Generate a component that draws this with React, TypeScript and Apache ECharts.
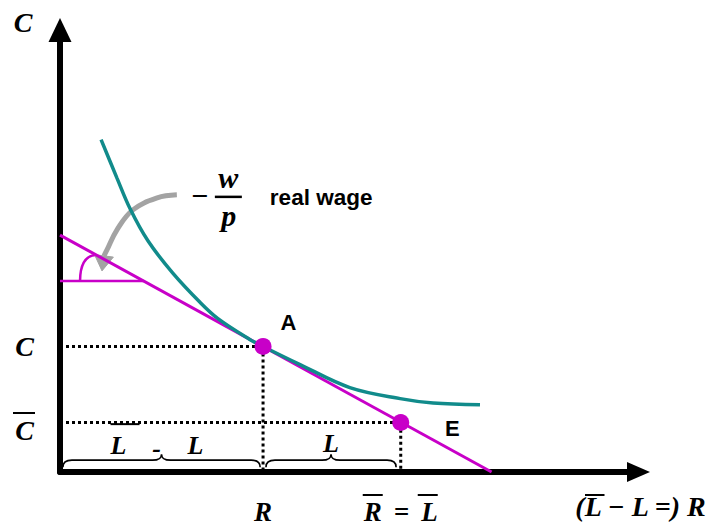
import React, { useEffect, useRef } from 'react';
import * as echarts from 'echarts';

// ---- values (x: 0..100, y: 0..100 data units) ----
const budgetLine: number[][] = [[0, 53.6], [74.6, 0]];
const indifferenceCurve: number[][] = [
  [7.1, 75.2], [9.85, 66.5], [12.1, 59.6], [15.2, 52.3], [19.5, 45.0], [24.2, 38.4],
  [27.3, 34.7], [32.8, 30.0], [35.1, 28.4], [41.5, 24.3], [50.1, 19.1], [58.8, 16.6],
  [64.5, 15.6], [72.6, 15.2],
];
const pointA: number[] = [35.1, 28.4];
const pointE: number[] = [58.9, 11.2];
const pointLabels: string[] = ['A', 'E'];
const angleLine: number[][] = [[0, 43.2], [14.47, 43.2]];
const angleArc: number[][] = [[3.46, 43.2], [3.5, 48.9], [6.2, 49.1]];
const wageArrow: number[][] = [[20.2, 62.7], [16.8, 62.0], [12.6, 59.3], [9.85, 54.8], [8.1, 50.2], [7.6, 48.9]];
const wageArrowHead: number[][] = [[7.6, 48.9], [7.26, 45.5]];
const braces: number[][] = [[0.5, 34.6, 1.1], [35.6, 58.1, 1.1]];
const braceLabels: string[] = ['L - L', 'L'];
const yTickValues: number[] = [pointE[1], pointA[1]];
const yTickLabels: string[] = ['C', 'C'];
const xTickValues: number[] = [pointA[0], pointE[0]];
const xTickLabels: string[] = ['R', 'R \u2009= \u2009L'];
const xAxisName = '(L \u2212 L =) R';
const yAxisName = 'C';
const wageLabel = 'real wage';

const serif = "'Liberation Serif', 'Times New Roman', serif";
const sans = "'Liberation Sans', Arial, sans-serif";
const magenta = '#c800c8';
const teal = '#118b8b';
const grey = '#a3a3a3';

const pick = (vals: number[], labels: string[], v: number) => {
  const i = vals.findIndex((x) => Math.abs(x - v) < 1e-6);
  return i >= 0 ? labels[i] : '';
};

export default function App() {
  const ref = useRef<HTMLDivElement>(null);
  useEffect(() => {
    const chart = echarts.init(ref.current!, null, { renderer: 'svg' });
    const serifFont = { fontWeight: 'bold', fontStyle: 'italic', fontFamily: serif, color: '#000' };

    const line = (data: number[][], color: string, width: number, extra: any = {}) => ({
      type: 'line', data, symbol: 'none', silent: true, clip: false,
      lineStyle: { color, width, ...(extra.lineStyle || {}) },
      ...Object.fromEntries(Object.entries(extra).filter(([k]) => k !== 'lineStyle')),
    });

    const option: any = {
      animation: false,
      backgroundColor: '#fff',
      grid: { left: 60, right: 84.5, top: 30, bottom: 57 },
      xAxis: {
        type: 'value', min: 0, max: 100,
        axisLine: { show: true, symbol: ['none', 'triangle'], symbolSize: [20, 23], lineStyle: { color: '#000', width: 6 } },
        axisTick: { show: false },
        splitLine: { show: false },
        axisLabel: {
          customValues: xTickValues,
          formatter: (v: number) => pick(xTickValues, xTickLabels, v),
          margin: 26, fontSize: 27, ...serifFont,
        },
      },
      yAxis: {
        type: 'value', min: 0, max: 100,
        axisLine: { show: true, symbol: ['none', 'triangle'], symbolSize: [23, 24], lineStyle: { color: '#000', width: 6 } },
        axisTick: { show: false },
        splitLine: { show: false },
        axisLabel: {
          customValues: yTickValues,
          formatter: (v: number) => {
            const t = pick(yTickValues, yTickLabels, v);
            return Math.abs(v - pointE[1]) < 1e-6 ? `{ov|${t}}` : `{n|${t}}`;
          },
          margin: 26,
          rich: {
            ov: { fontSize: 28, ...serifFont, padding: [16, 0, 0, 0] },
            n: { fontSize: 28, ...serifFont },
          },
        },
      },
      series: [
        line([[0, pointA[1]], pointA, [pointA[0], 0]], '#000', 3, { lineStyle: { type: [3, 3] } }),
        line([[0, pointE[1]], pointE, [pointE[0], 0]], '#000', 3, { lineStyle: { type: [3, 3] } }),
        line(budgetLine, magenta, 3),
        line(angleLine, magenta, 2.5),
        line(wageArrow, grey, 5, { smooth: 0.4 }),
        {
          type: 'custom', silent: true, data: [[0, 0]], z: 3,
          renderItem: (_p: any, api: any) => {
            const s = api.coord(angleArc[0]);
            const c = api.coord(angleArc[1]);
            const e = api.coord(angleArc[2]);
            return {
              type: 'path',
              shape: { pathData: `M${s[0]} ${s[1]} Q${c[0]} ${c[1]} ${e[0]} ${e[1]}` },
              style: { fill: 'none', stroke: magenta, lineWidth: 2.5 },
            };
          },
        },
        line(indifferenceCurve, teal, 3.5, { smooth: 0.35, z: 4 }),
        {
          type: 'scatter', silent: true, symbolSize: 17,
          itemStyle: { color: magenta, opacity: 1 },
          data: [
            { value: pointA, label: { offset: [25.5, -24] } },
            { value: pointE, label: { offset: [51.5, 6.5] } },
          ],
          label: {
            show: true, position: 'inside',
            formatter: (p: any) => pointLabels[p.dataIndex],
            fontSize: 22, fontWeight: 'bold', fontFamily: sans, color: '#000',
          },
          z: 5,
        },
        {
          type: 'custom', silent: true, data: braces,
          renderItem: (params: any, api: any) => {
            const a = api.coord([api.value(0), api.value(2)]);
            const b = api.coord([api.value(1), api.value(2)]);
            const yb = a[1], ym = yb - 7, yt = yb - 13, r = 9;
            const xm = (a[0] + b[0]) / 2;
            const d = `M${a[0]} ${yb} Q${a[0]} ${ym} ${a[0] + r} ${ym} L${xm - r} ${ym} Q${xm} ${ym} ${xm} ${yt} Q${xm} ${ym} ${xm + r} ${ym} L${b[0] - r} ${ym} Q${b[0]} ${ym} ${b[0]} ${yb}`;
            const txt = (text: string, x: number, y: number) => ({
              type: 'text', x, y,
              style: { text, fontSize: 26, fontWeight: 'bold', fontStyle: 'italic', fontFamily: serif, fill: '#000', align: 'center', verticalAlign: 'middle' },
            });
            const children: any[] = [
              { type: 'path', shape: { pathData: d }, style: { fill: 'none', stroke: '#000', lineWidth: 1.6 } },
            ];
            const parts = braceLabels[params.dataIndex].split(' ');
            if (parts.length === 3) {
              children.push(txt(parts[0], xm - 43, yb - 22));
              children.push(txt(parts[1], xm - 5, yb - 19));
              children.push(txt(parts[2], xm + 34, yb - 22));
              children.push({ type: 'line', shape: { x1: xm - 51, y1: yb - 43, x2: xm - 22, y2: yb - 43 }, style: { stroke: '#000', lineWidth: 2 } });
            } else {
              children.push(txt(parts[0], xm, yb - 24));
            }
            return { type: 'group', children };
          },
        },
      ],
    };
    chart.setOption(option);

    const g = { gridIndex: 0 };
    const px = (p: number[]) => chart.convertToPixel(g, p) as number[];
    const [x0, y0] = px([0, 0]);
    const [xEnd] = px([100, 0]);
    const [, yTop] = px([0, 100]);
    const [ex, ey] = px(pointE);
    const [wx, wy] = px(wageArrow[0]);
    const hb = px(wageArrowHead[0]);
    const ht = px(wageArrowHead[1]);
    const hdx = ht[0] - hb[0], hdy = ht[1] - hb[1];
    const hlen = Math.hypot(hdx, hdy) || 1;
    const hw = 9.5;
    const hnx = (-hdy / hlen) * hw, hny = (hdx / hlen) * hw;

    const T = (text: string, x: number, y: number, size: number, extra: any = {}) => ({
      type: 'text', x, y, silent: true,
      style: { text, fontSize: size, fontWeight: 'bold', fontStyle: 'italic', fontFamily: serif, fill: '#000', align: 'center', verticalAlign: 'middle', ...extra },
    });
    const OL = (xa: number, xb: number, y: number, w = 2) => ({
      type: 'line', silent: true, shape: { x1: xa, y1: y, x2: xb, y2: y }, style: { stroke: '#000', lineWidth: w },
    });

    chart.setOption({
      graphic: [
        {
          type: 'polygon', silent: true, z: 3,
          shape: { points: [[ht[0], ht[1]], [hb[0] + hnx, hb[1] + hny], [hb[0] - hnx, hb[1] - hny]] },
          style: { fill: grey, stroke: grey, lineWidth: 1 },
        },
        T(yAxisName, x0 - 37, yTop - 8, 28),
        T(xAxisName, xEnd + 2, y0 + 34, 28),
        OL(xEnd - 53.5, xEnd - 34, y0 + 23),
        OL(x0 - 47, x0 - 25, ey - 9.5),
        OL(ex - 38, ex - 18, y0 + 23),
        OL(ex + 17, ex + 37, y0 + 23),
        T('\u2212', wx + 23, wy + 1, 30),
        T('w', wx + 51.5, wy - 17, 30),
        OL(wx + 38, wx + 65, wy + 2, 2.5),
        T('p', wx + 52, wy + 21, 30),
        T(wageLabel, wx + 93, wy + 3, 22.5, { fontStyle: 'normal', fontFamily: sans, align: 'left' }),
      ],
    });

    return () => chart.dispose();
  }, []);

  return <div ref={ref} style={{ position: 'fixed', left: 0, top: 0, width: 723, height: 529, background: '#fff' }} />;
}
